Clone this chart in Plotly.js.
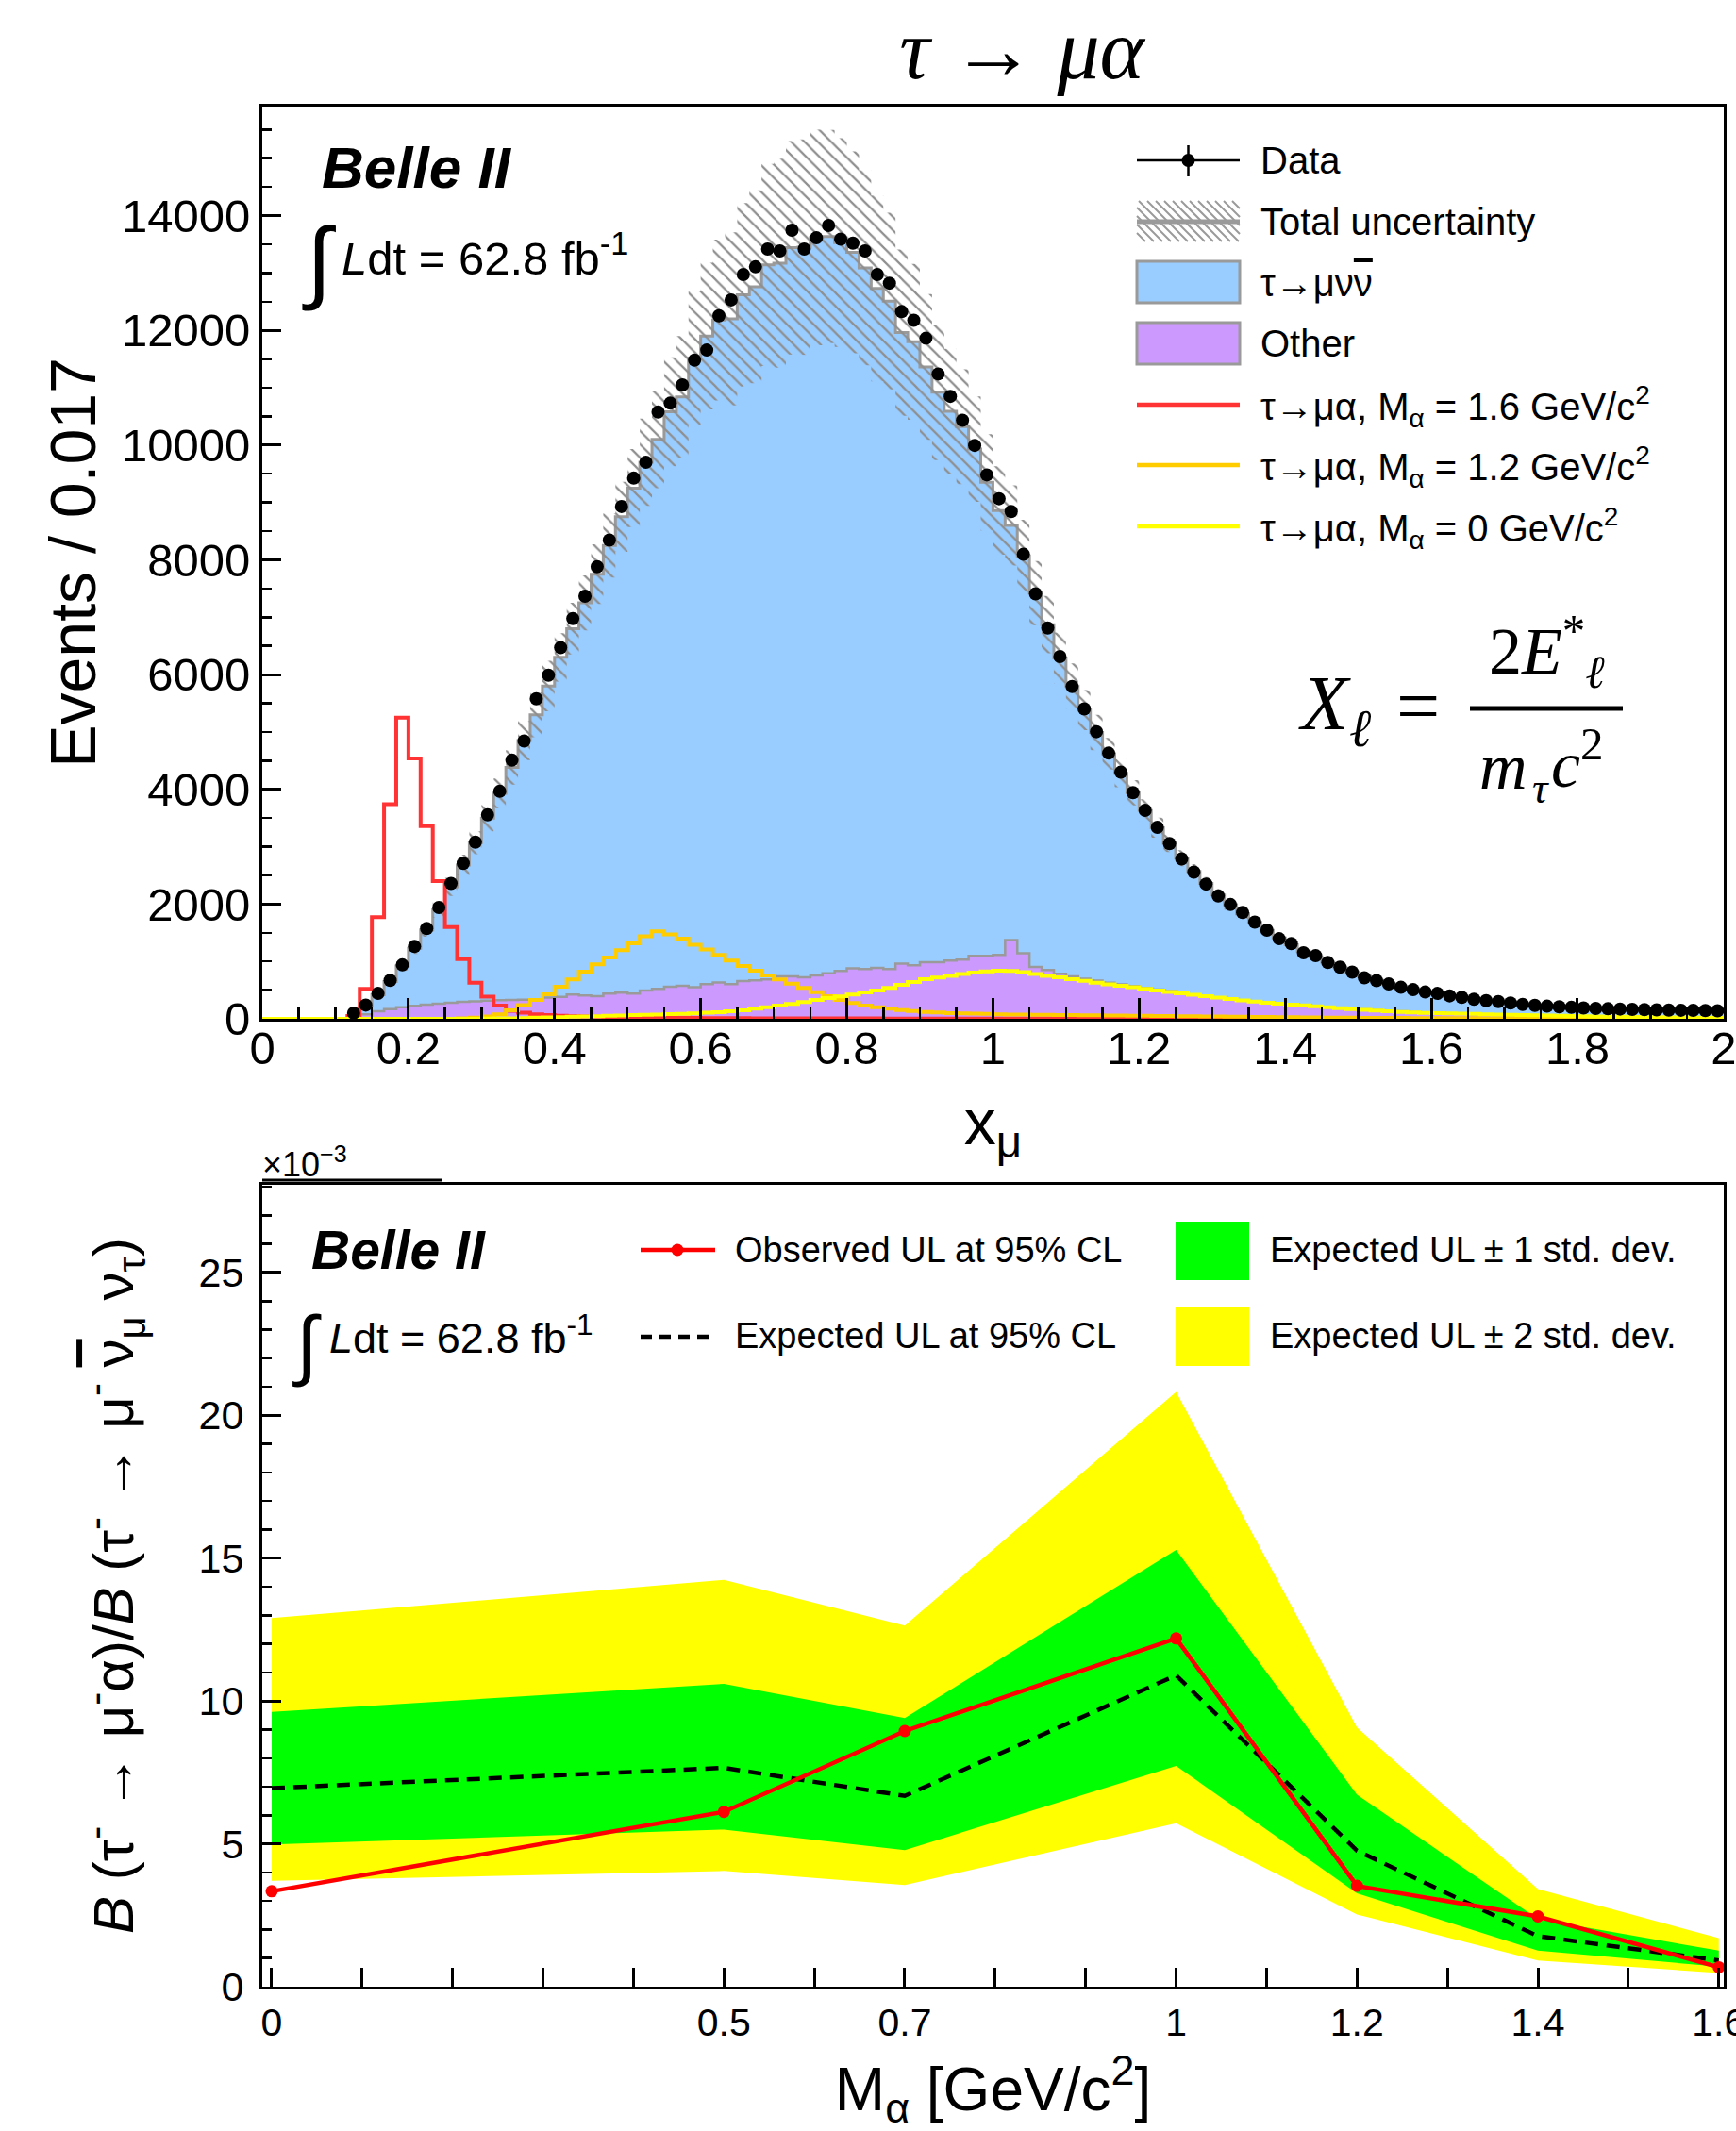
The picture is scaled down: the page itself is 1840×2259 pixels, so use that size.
<!DOCTYPE html>
<html><head><meta charset="utf-8">
<script src="https://cdn.plot.ly/plotly-3.0.1.min.js"></script>
<style>body{margin:0;background:#fff}</style>
</head><body>
<div id="chart" style="width:1840px;height:2259px"></div>
<script>
// ---------------- DATA: top panel (x_mu histogram, 120 bins from 0 to 2) ----------------
const histMin = 0, histMax = 2, nBins = 120;

const dataCounts = [null,null,null,null,null,null,null,
 100,240,445,670,940,1260,1575,1940,2360,2710,3080,3555,3965,4510,4843,5578,5990,
 6471,6975,7366,7881,8344,8930,9424,9702,10576,10731,11049,11481,11656,12253,12531,12973,
 13107,13416,13384,13745,13416,13613,13827,13590,13519,13384,12973,12823,12326,12176,11862,11240,
 10850,10434,9995,9481,9066,8843,8096,7407,6811,6313,5791,5401,5004,4631,4298,3941,
 3635,3337,3054,2788,2556,2349,2142,1992,1852,1686,1546,1396,1312,1150,1100,981,
 899,815,716,665,607,549,508,467,442,400,375,342,317,301,276,251,
 235,220,210,200,190,182,175,170,165,160,157,153,150,147,143,140];

const mcTotal = [0,0,0,0,0,0,0,
 40,220,420,650,920,1230,1550,1900,2300,2680,3070,3500,3930,4380,4850,5300,5800,
 6300,6800,7250,7750,8250,8750,9250,9700,10100,10580,10840,11520,11900,12180,12200,12620,
 12760,13140,13170,13440,13450,13620,13635,13530,13360,13090,12730,12510,11960,11800,11360,10920,
 10590,10320,9930,9350,8860,8600,8070,7420,6870,6290,5800,5380,4990,4620,4280,3940,
 3630,3330,3060,2800,2570,2360,2160,1990,1830,1680,1540,1410,1290,1180,1080,985,
 900,820,740,670,610,555,505,465,430,395,365,340,315,295,275,255,
 240,225,212,200,190,181,173,166,160,155,150,146,142,138,135,132];

const mcUncertainty = [0,0,0,0,0,0,0,
 10,25,40,60,80,100,120,140,160,180,200,230,260,300,340,390,440,
 420,450,480,520,560,610,680,760,850,950,1060,1170,1280,1400,1510,1600,
 1680,1760,1820,1860,1880,1880,1860,1820,1760,1700,1620,1540,1450,1360,1270,1180,
 1090,1000,920,840,770,700,630,560,500,445,395,350,310,275,245,220,
 195,175,155,140,125,112,100,90,82,75,68,62,56,51,46,42,
 38,35,32,29,27,25,23,21,20,19,18,17,16,15,14,13,
 13,12,12,11,11,10,10,10,9,9,9,8,8,8,8,8];

const otherBkg = [0,0,0,0,0,0,0,
 30,80,130,170,200,225,245,265,280,295,305,315,325,330,335,340,
 368,384,423,406,395,439,456,439,494,521,560,576,549,604,631,604,
 658,669,686,741,741,724,757,795,834,878,867,889,867,960,933,988,
 988,1015,1031,1097,1097,1114,1372,1141,905,850,785,740,700,665,630,600,
 570,540,510,485,455,425,395,365,340,315,300,285,265,250,235,220,
 205,190,178,165,153,142,132,120,110,100,92,85,78,72,66,61,
 57,53,50,47,44,42,40,38,36,34,33,32,31,30,29,28,27];

const sigM16 = [0,0,0,0,0,0,0,
 50,520,1770,3740,5250,4540,3360,2400,1600,1040,630,385,230,140,105,80,65,
 55,45,40,35,30,27,24,22,20,18,16,15,14,13,12,11,
 10,8,8,8,8,8,8,8,8,8,8,5,5,5,5,5,
 5,5,5,5,5,5,5,5,5,5,5,5,5,5,5,3,
 3,3,3,3,3,3,3,3,3,3,3,3,3,3,3,3,
 3,3,3,1,1,1,1,1,1,1,1,1,1,1,1,1,
 1,1,1,1,1,1,1,1,1,1,1,1,1,1,1,1];

const sigM12 = [0,0,0,0,0,0,0,0,0,0,0,0,0,0,0,0,
 8,20,40,80,150,240,329,428,560,686,823,950,1070,1196,1317,1438,
 1526,1470,1399,1289,1207,1114,1015,922,840,757,686,614,538,466,395,329,
 274,230,203,175,154,137,121,110,100,95,90,85,80,76,72,70,
 68,66,64,62,60,58,56,54,52,50,48,46,44,42,40,38,36,
 34,32,30,28,26,24,22,20,19,18,
 17,16,15,14,13,12,12,11,11,10,10,9,9,8,8,8,7,7,7,6,6,6,5,5,5,5,4,4,4];

const sigM0 = [0,0,0,0,0,0,0,0,0,0,0,0,0,0,0,0,0,0,
 5,8,10,14,20,25,30,35,40,45,52,58,64,70,76,82,
 88,95,105,115,130,150,175,200,230,260,290,330,360,390,425,460,
 495,540,590,640,690,720,750,780,805,825,840,835,815,780,750,725,
 690,660,630,600,575,550,520,495,470,445,420,395,370,345,320,300,
 280,262,248,235,218,200,184,168,155,143,132,120,110,104,99,94,
 90,86,80,75,70,65,60,56,52,48,45,42,39,36,33,30,28,26,24,22,20,18];

// ---------------- DATA: bottom panel (upper limits) ----------------
const massAlpha   = [0, 0.5, 0.7, 1.0, 1.2, 1.4, 1.6];
const observedUL  = [3.34, 6.12, 8.95, 12.19, 3.53, 2.46, 0.68];
const expectedUL  = [6.95, 7.66, 6.68, 10.90, 4.76, 1.77, 0.92];
const exp1sUp     = [9.62, 10.60, 9.40, 15.29, 6.72, 2.37, 1.26];
const exp1sDown   = [4.98, 5.50, 4.78, 7.73, 3.27, 1.26, 0.70];
const exp2sUp     = [12.90, 14.24, 12.64, 20.82, 9.07, 3.42, 1.70];
const exp2sDown   = [3.71, 4.05, 3.56, 5.72, 2.53, 0.92, 0.48];
const massTickVals = [0, 0.5, 0.7, 1.0, 1.2, 1.4, 1.6];
const massTickText = ['0', '0.5', '0.7', '1', '1.2', '1.4', '1.6'];

// ---------------- helpers ----------------
const FONT = 'Liberation Sans, Arial, Helvetica, sans-serif';
const SERIF = 'Liberation Serif, Times New Roman, serif';
const W = 1840, H = 2259, ML = 278, MR = 13, MT = 113, MB = 153;
const PW = W - ML - MR, PH = H - MT - MB;
const px = v => (v - ML) / PW;
const py = v => (H - MB - v) / PH;

const bw = (histMax - histMin) / nBins;
const edges = Array.from({length: nBins + 1}, (_, i) => histMin + i * bw);
const centers = edges.slice(0, -1).map(e => e + bw / 2);
function stepY(vals) { return vals.concat([vals[vals.length - 1]]); }

// uncertainty band polygon (step shaped)
const bandX = [], bandY = [];
for (let i = 0; i < nBins; i++) {
  if (mcTotal[i] <= 0) continue;
  bandX.push(edges[i], edges[i + 1]);
  bandY.push(mcTotal[i] + mcUncertainty[i], mcTotal[i] + mcUncertainty[i]);
}
for (let i = nBins - 1; i >= 0; i--) {
  if (mcTotal[i] <= 0) continue;
  bandX.push(edges[i + 1], edges[i]);
  bandY.push(Math.max(0, mcTotal[i] - mcUncertainty[i]), Math.max(0, mcTotal[i] - mcUncertainty[i]));
}

const traces = [
  {x: edges, y: stepY(mcTotal), type: 'scatter', mode: 'lines', line: {shape: 'hv', color: '#9a9a9a', width: 3},
   fill: 'tozeroy', fillcolor: '#99ccff', xaxis: 'x', yaxis: 'y', hoverinfo: 'skip'},
  {x: edges, y: stepY(otherBkg), type: 'scatter', mode: 'lines', line: {shape: 'hv', color: '#9a9a9a', width: 2.5},
   fill: 'tozeroy', fillcolor: '#cc99ff', xaxis: 'x', yaxis: 'y', hoverinfo: 'skip'},
  {x: bandX, y: bandY, type: 'scatter', mode: 'lines', line: {width: 0, color: 'rgba(0,0,0,0)'},
   fill: 'toself', fillcolor: 'rgba(0,0,0,0)',
   fillpattern: {shape: '\\', fgcolor: '#8f8f8f', bgcolor: 'rgba(0,0,0,0)', size: 10, solidity: 0.22},
   xaxis: 'x', yaxis: 'y', hoverinfo: 'skip'},
  {x: edges, y: stepY(sigM16), type: 'scatter', mode: 'lines', line: {shape: 'hv', color: '#ff3333', width: 4},
   xaxis: 'x', yaxis: 'y'},
  {x: edges, y: stepY(sigM12), type: 'scatter', mode: 'lines', line: {shape: 'hv', color: '#ffcc00', width: 4},
   xaxis: 'x', yaxis: 'y'},
  {x: edges, y: stepY(sigM0), type: 'scatter', mode: 'lines', line: {shape: 'hv', color: '#ffff00', width: 4},
   xaxis: 'x', yaxis: 'y'},
  {x: centers, y: dataCounts, type: 'scatter', mode: 'markers', marker: {color: '#000', size: 14},
   xaxis: 'x', yaxis: 'y'},
  // bottom panel
  {x: massAlpha.concat(massAlpha.slice().reverse()), y: exp2sUp.concat(exp2sDown.slice().reverse()),
   type: 'scatter', mode: 'lines', fill: 'toself', fillcolor: '#ffff00', line: {width: 0, color: '#ffff00'},
   xaxis: 'x2', yaxis: 'y2'},
  {x: massAlpha.concat(massAlpha.slice().reverse()), y: exp1sUp.concat(exp1sDown.slice().reverse()),
   type: 'scatter', mode: 'lines', fill: 'toself', fillcolor: '#00ff00', line: {width: 0, color: '#00ff00'},
   xaxis: 'x2', yaxis: 'y2'},
  {x: massAlpha, y: expectedUL, type: 'scatter', mode: 'lines',
   line: {color: '#000', width: 4.5, dash: '14px,9px'}, xaxis: 'x2', yaxis: 'y2'},
  {x: massAlpha, y: observedUL, type: 'scatter', mode: 'lines+markers', cliponaxis: false,
   line: {color: '#ff0000', width: 4.5}, marker: {color: '#ff0000', size: 13},
   xaxis: 'x2', yaxis: 'y2'}
];

// ---------------- legends / decorations ----------------
const shapes = [];
const annotations = [];
function hline(x0, x1, y, color, width, dash) {
  shapes.push({type: 'line', xref: 'paper', yref: 'paper', x0: px(x0), x1: px(x1), y0: py(y), y1: py(y),
    line: {color: color, width: width, dash: dash || 'solid'}});
}
function vline(x, y0, y1, color, width) {
  shapes.push({type: 'line', xref: 'paper', yref: 'paper', x0: px(x), x1: px(x), y0: py(y0), y1: py(y1),
    line: {color: color, width: width}});
}
function rect(x0, x1, y0, y1, fill, lineColor, lw) {
  shapes.push({type: 'rect', xref: 'paper', yref: 'paper', x0: px(x0), x1: px(x1), y0: py(y1), y1: py(y0),
    fillcolor: fill, line: {color: lineColor || fill, width: lw || 0}});
}
function circle(cx, cy, r, color) {
  shapes.push({type: 'circle', xref: 'paper', yref: 'paper', x0: px(cx - r), x1: px(cx + r), y0: py(cy + r), y1: py(cy - r),
    fillcolor: color, line: {color: color, width: 0}});
}
function text(t, x, y, size, opts) {
  annotations.push(Object.assign({text: t, xref: 'paper', yref: 'paper', x: px(x), y: py(y), xanchor: 'left', yanchor: 'middle',
    showarrow: false, font: {family: FONT, size: size, color: '#000'}}, opts || {}));
}
const NUBAR = '<span style="text-decoration:overline">ν</span>';

// top legend
const LX0 = 1205, LX1 = 1314, TX = 1334;
hline(LX0, LX1, 170, '#000', 2.5); vline((LX0 + LX1) / 2, 154, 187, '#000', 2.5); circle((LX0 + LX1) / 2, 170, 7, '#000');
text('Data', TX, 170, 40);
(function () {
  const top = 213, bot = 256, h = bot - top;
  for (let s = LX0 - h; s < LX1; s += 9) {
    let xa = s, ya = top, xb = s + h, yb = bot;
    if (xa < LX0) { ya = top + (LX0 - xa); xa = LX0; }
    if (xb > LX1) { yb = bot - (xb - LX1); xb = LX1; }
    if (xb <= xa) continue;
    shapes.push({type: 'line', xref: 'paper', yref: 'paper', x0: px(xa), y0: py(ya), x1: px(xb), y1: py(yb),
      line: {color: '#9a9a9a', width: 2}});
  }
})();
hline(LX0, LX1, 235, '#9a9a9a', 5);
text('Total uncertainty', TX, 235, 40);
rect(LX0, LX1, 277, 321, '#99ccff', '#9a9a9a', 3);
text('τ→μν' + NUBAR, TX, 300, 40);
rect(LX0, LX1, 342, 386, '#cc99ff', '#9a9a9a', 3);
text('Other', TX, 364, 40);
hline(LX0, LX1, 429, '#ff3333', 4.5);
text('τ→μα, M<sub>α</sub> = 1.6 GeV/c<sup>2</sup>', TX, 431, 40);
hline(LX0, LX1, 493, '#ffcc00', 4.5);
text('τ→μα, M<sub>α</sub> = 1.2 GeV/c<sup>2</sup>', TX, 495, 40);
hline(LX0, LX1, 558, '#ffff00', 4.5);
text('τ→μα, M<sub>α</sub> = 0 GeV/c<sup>2</sup>', TX, 560, 40);

// top panel labels
text('<b><i>Belle II</i></b>', 339, 178, 62);
text('∫', 318, 276, 96);
text('<i>L</i>dt = 62.8 fb<sup>-1</sup>', 360, 270, 49);

// formula X_l = 2E*_l / m_tau c^2
text('<i>X</i>', 1374, 745, 82, {font: {family: SERIF, size: 82, color: '#000'}});
text('<i>ℓ</i>', 1428, 772, 56, {font: {family: SERIF, size: 56, color: '#000'}});
text('=', 1478, 748, 82, {font: {family: SERIF, size: 82, color: '#000'}});
hline(1558, 1720, 751, '#000', 5);
text('2<i>E</i><sup>*</sup><sub><i>ℓ</i></sub>', 1639, 690, 70,
     {xanchor: 'center', font: {family: SERIF, size: 70, color: '#000'}});
text('<i>m</i>', 1566, 812, 70, {font: {family: SERIF, size: 70, color: '#000'}});
text('<i>τ</i>', 1622, 835, 46, {font: {family: SERIF, size: 46, color: '#000'}});
text('<i>c</i><sup>2</sup>', 1642, 805, 70, {font: {family: SERIF, size: 70, color: '#000'}});

// bottom panel labels
text('<b><i>Belle II</i></b>', 328, 1325, 57);
text('∫', 308, 1425, 82);
text('<i>L</i>dt = 62.8 fb<sup>-1</sup>', 347, 1415, 45);
text('×10<sup>−3</sup>', 276, 1232, 36);
hline(278, 468, 1251, '#000', 3);

// bottom legend
hline(679, 758, 1325, '#ff0000', 4.5); circle(718, 1325, 6.5, '#ff0000');
text('Observed UL at 95% CL', 777, 1325, 38);
hline(679, 758, 1417, '#000', 4.5, '12px,8px');
text('Expected UL at 95% CL', 777, 1416, 38);
rect(1246, 1324, 1295, 1357, '#00ff00');
text('Expected UL ± 1 std. dev.', 1344, 1325, 38);
rect(1246, 1324, 1385, 1448, '#ffff00');
text('Expected UL ± 2 std. dev.', 1344, 1416, 38);

const axisCommon = {showline: true, linecolor: '#000', linewidth: 3, mirror: true, showgrid: false, zeroline: false,
  ticks: 'inside', tickcolor: '#000', tickwidth: 3, fixedrange: true};

const layout = {
  width: W, height: H,
  margin: {l: ML, r: MR, t: MT, b: MB},
  paper_bgcolor: '#fff', plot_bgcolor: '#fff',
  showlegend: false,
  font: {family: FONT, color: '#000'},
  title: {text: '<i>τ</i> → <i>μα</i>', font: {family: SERIF, size: 90, color: '#000'},
          x: 1083 / W, xanchor: 'center', xref: 'container', yref: 'container', y: 1, yanchor: 'top', pad: {t: 20}},
  xaxis: Object.assign({}, axisCommon, {
    domain: [0, 1], anchor: 'y', range: [0, 2.0002], dtick: 0.2, tick0: 0, ticklen: 22, ticklabelstandoff: -14,
    ticklabeloverflow: 'allow',
    tickfont: {size: 49, family: FONT}, minor: {dtick: 0.05, ticklen: 12, ticks: 'inside', tickcolor: '#000', tickwidth: 2.5},
    title: {text: 'x<sub>μ</sub>', font: {size: 68, family: FONT}, standoff: 29}
  }),
  yaxis: Object.assign({}, axisCommon, {
    domain: [py(1080), 1], anchor: 'x', range: [0, 15900], dtick: 2000, tick0: 0, ticklen: 20, tickformat: 'd',
    tickfont: {size: 49, family: FONT}, minor: {dtick: 500, ticklen: 10, ticks: 'inside', tickcolor: '#000', tickwidth: 2.5},
    title: {text: 'Events / 0.017', font: {size: 68, family: FONT}, standoff: 6}
  }),
  xaxis2: Object.assign({}, axisCommon, {
    domain: [0, 1], anchor: 'y2', range: [-0.0104, 1.6055], tickmode: 'array', tickvals: massTickVals, ticktext: massTickText,
    ticklabeloverflow: 'allow',
    ticklen: 20, tickfont: {size: 41, family: FONT},
    minor: {dtick: 0.1, tick0: 0, ticklen: 20, ticks: 'inside', tickcolor: '#000', tickwidth: 3},
    title: {text: 'M<sub>α</sub> [GeV/c<sup>2</sup>]', font: {size: 64, family: FONT}, standoff: 45}
  }),
  yaxis2: Object.assign({}, axisCommon, {
    domain: [0, py(1256)], anchor: 'x2', range: [0, 28.07], dtick: 5, tick0: 0, ticklen: 20, ticklabelstandoff: 8,
    tickfont: {size: 43, family: FONT}, minor: {dtick: 1, ticklen: 10, ticks: 'inside', tickcolor: '#000', tickwidth: 2.5},
    title: {text: '<i>B</i> (τ<sup>-</sup> → μ<sup>-</sup>α)/<i>B</i> (τ<sup>-</sup> → μ<sup>-</sup> ' + NUBAR + '<sub>μ</sub> ν<sub>τ</sub>)',
            font: {size: 60, family: FONT}, standoff: 50}
  }),
  shapes: shapes,
  annotations: annotations
};

Plotly.newPlot('chart', traces, layout, {displayModeBar: false, staticPlot: true});
</script>
</body></html>
